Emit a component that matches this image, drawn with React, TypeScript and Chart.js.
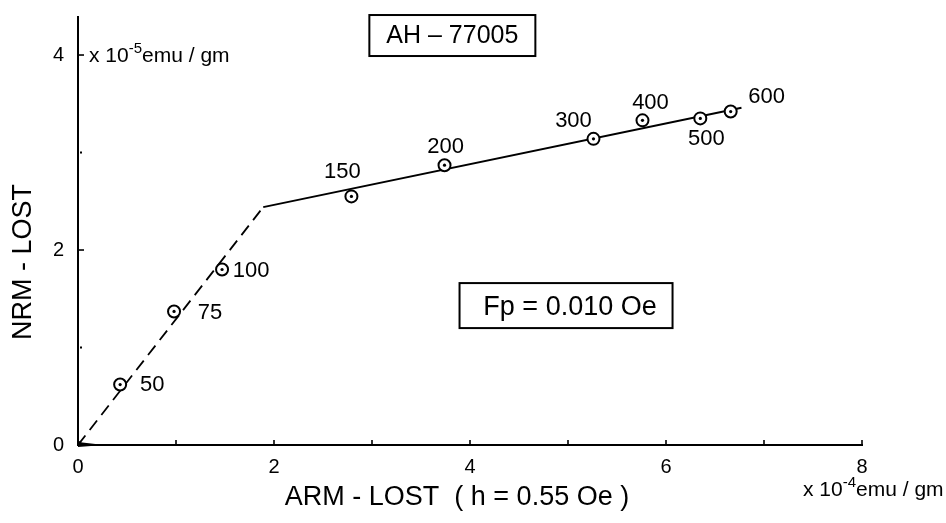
import React, { useEffect, useRef } from 'react';
import { Chart, registerables } from 'chart.js';

Chart.register(...registerables);

// ---- data ----
const stepLabels = ['50', '75', '100', '150', '200', '300', '400', '500', '600'];
const armLost = [0.43, 0.98, 1.47, 2.79, 3.74, 5.26, 5.76, 6.35, 6.66];
const nrmLost = [0.62, 1.37, 1.8, 2.55, 2.87, 3.14, 3.33, 3.35, 3.42];

const dashedFitX = [0, 1.89];
const dashedFitY = [0, 2.44];
const solidFitX = [1.89, 6.77];
const solidFitY = [2.44, 3.46];

const xTickValues = [0, 2, 4, 6, 8];
const xMinorValues = [1, 3, 5, 7];
const yTickValues = [0, 2, 4];
const yMinorValues = [1, 3];

const sampleName = 'AH – 77005';
const fpText = 'Fp = 0.010 Oe';
const yTitle = 'NRM - LOST';
const xTitle = 'ARM - LOST  ( h = 0.55 Oe )';

// ---- styling / layout (not data) ----
const FONT = '"Liberation Sans", Arial, sans-serif';
const labelOffsets = [
  [32, 0], [36, 2], [29, 1], [-9, -24], [1, -18], [-20, -18], [8, -17], [6, 21], [36, -15],
];

function toXY(xs: number[], ys: number[]) {
  return xs.map((v, i) => ({ x: v, y: ys[i] }));
}

function drawUnit(ctx: CanvasRenderingContext2D, x: number, baseline: number, exp: string) {
  ctx.textAlign = 'left';
  ctx.textBaseline = 'alphabetic';
  ctx.font = `21px ${FONT}`;
  ctx.fillText('x 10', x, baseline);
  let cx = x + ctx.measureText('x 10').width;
  ctx.font = `15px ${FONT}`;
  ctx.fillText(exp, cx, baseline - 9);
  cx += ctx.measureText(exp).width;
  ctx.font = `21px ${FONT}`;
  ctx.fillText('emu / gm', cx, baseline);
}

const decorPlugin = {
  id: 'decor',
  afterDraw(chart: any) {
    const { ctx, chartArea, scales } = chart;
    const xs = scales.x;
    const ys = scales.y;
    ctx.save();
    ctx.strokeStyle = '#000';
    ctx.fillStyle = '#000';

    // inward ticks on y axis
    ctx.lineWidth = 1.6;
    yTickValues.forEach((v) => {
      if (v === 0) return;
      const py = ys.getPixelForValue(v);
      ctx.beginPath();
      ctx.moveTo(chartArea.left, py);
      ctx.lineTo(chartArea.left + 6, py);
      ctx.stroke();
    });
    yMinorValues.forEach((v) => {
      const py = ys.getPixelForValue(v);
      ctx.fillRect(chartArea.left + 2, py - 1, 2, 2);
    });
    // inward ticks on x axis
    [...xTickValues, ...xMinorValues].forEach((v) => {
      if (v === 0) return;
      const px = xs.getPixelForValue(v);
      ctx.beginPath();
      ctx.moveTo(px, chartArea.bottom);
      ctx.lineTo(px, chartArea.bottom - 5);
      ctx.stroke();
    });

    // small wedge at the origin
    {
      const ox = xs.getPixelForValue(0);
      const oy = ys.getPixelForValue(0);
      ctx.beginPath();
      ctx.moveTo(ox, oy - 3);
      ctx.lineTo(ox + 26, oy);
      ctx.lineTo(ox, oy + 2);
      ctx.closePath();
      ctx.fill();
    }

    // point labels
    ctx.font = `22px ${FONT}`;
    ctx.textAlign = 'center';
    ctx.textBaseline = 'middle';
    stepLabels.forEach((lab, i) => {
      const px = xs.getPixelForValue(armLost[i]) + labelOffsets[i][0];
      const py = ys.getPixelForValue(nrmLost[i]) + labelOffsets[i][1];
      ctx.fillText(lab, px, py);
    });

    // sample name box
    ctx.lineWidth = 2;
    {
      const cx = xs.getPixelForValue(3.82);
      const cy = ys.getPixelForValue(4.2);
      ctx.strokeRect(cx - 83, cy - 20.5, 166, 41);
      ctx.font = `25px ${FONT}`;
      ctx.fillText(sampleName, cx, cy + 1);
    }
    // Fp box
    {
      const cx = xs.getPixelForValue(4.98);
      const cy = ys.getPixelForValue(1.43);
      ctx.strokeRect(cx - 106.5, cy - 22.5, 213, 45);
      ctx.font = `27px ${FONT}`;
      ctx.fillText(fpText, cx + 4, cy + 2);
    }

    // axis titles
    ctx.font = `27px ${FONT}`;
    ctx.save();
    ctx.translate(24, 262);
    ctx.rotate(-Math.PI / 2);
    ctx.fillText(yTitle, 0, 0);
    ctx.restore();
    ctx.fillText(xTitle, 457, 498);

    // unit labels
    drawUnit(ctx, chartArea.left + 11, ys.getPixelForValue(4) + 7, '-5');
    drawUnit(ctx, 803, 496, '-4');

    ctx.restore();
  },
};

export default function App() {
  const ref = useRef<HTMLCanvasElement | null>(null);

  useEffect(() => {
    if (!ref.current) return;
    const points = toXY(armLost, nrmLost);
    const chart = new Chart(ref.current, {
      type: 'scatter',
      data: {
        datasets: [
          {
            label: 'centres',
            data: points,
            pointRadius: 1.6,
            pointBackgroundColor: '#000',
            pointBorderWidth: 0,
            showLine: false,
          },
          {
            label: 'steps',
            data: points,
            pointRadius: 6,
            pointBorderWidth: 2,
            pointBorderColor: '#000',
            pointBackgroundColor: '#fff',
            showLine: false,
          },
          {
            label: 'origin',
            data: [{ x: 0, y: 0 }],
            pointRadius: 4,
            pointBackgroundColor: '#000',
            pointBorderWidth: 0,
            showLine: false,
          },
          {
            label: 'dashed fit',
            data: toXY(dashedFitX, dashedFitY),
            showLine: true,
            borderColor: '#000',
            borderWidth: 1.8,
            borderDash: [12, 7],
            pointRadius: 0,
          },
          {
            label: 'solid fit',
            data: toXY(solidFitX, solidFitY),
            showLine: true,
            borderColor: '#000',
            borderWidth: 2,
            pointRadius: 0,
          },
        ],
      },
      options: {
        responsive: false,
        animation: false,
        layout: { padding: { left: 0, right: 84, top: 17, bottom: 0 }, autoPadding: false },
        plugins: { legend: { display: false }, tooltip: { enabled: false } },
        scales: {
          x: {
            type: 'linear',
            min: 0,
            max: 8,
            afterFit: (s: any) => { s.height = 78; s.paddingLeft = 0; s.paddingRight = 0; },
            afterBuildTicks: (s: any) => { s.ticks = xTickValues.map((v) => ({ value: v })); },
            grid: { display: false, drawTicks: false },
            border: { display: true, color: '#000', width: 2 },
            ticks: {
              color: '#000',
              padding: 10,
              maxRotation: 0,
              autoSkip: false,
              font: { family: FONT, size: 20 },
            },
          },
          y: {
            type: 'linear',
            min: 0,
            max: 4.39,
            afterFit: (s: any) => { s.width = 78; s.paddingTop = 0; s.paddingBottom = 0; },
            afterBuildTicks: (s: any) => { s.ticks = yTickValues.map((v) => ({ value: v })); },
            grid: { display: false, drawTicks: false },
            border: { display: true, color: '#000', width: 2 },
            ticks: {
              color: '#000',
              padding: 14,
              autoSkip: false,
              font: { family: FONT, size: 20 },
            },
          },
        },
      },
      plugins: [decorPlugin],
    });
    return () => chart.destroy();
  }, []);

  return (
    <div style={{ position: 'absolute', left: 0, top: 0, width: 946, height: 523, background: '#fff' }}>
      <canvas ref={ref} width={946} height={523} style={{ display: 'block' }} />
    </div>
  );
}
